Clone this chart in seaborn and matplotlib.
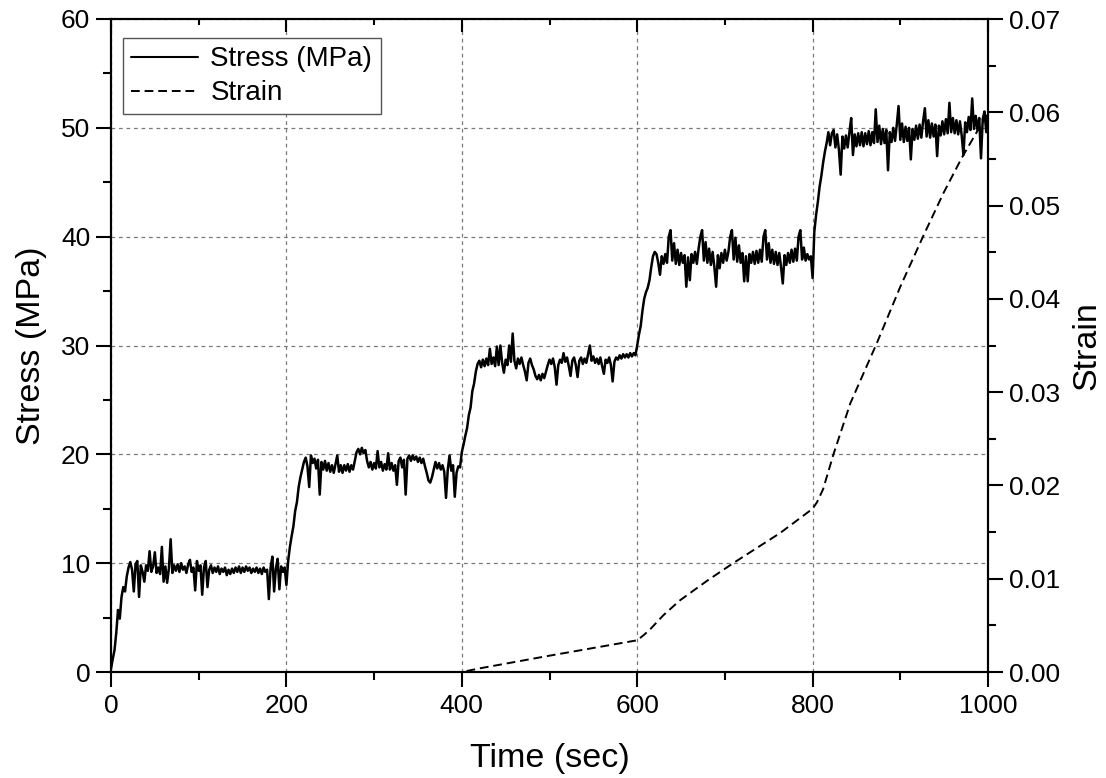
import numpy as np
import pandas as pd
import matplotlib
matplotlib.use("Agg")
import matplotlib.pyplot as plt
import seaborn as sns
from matplotlib.lines import Line2D
from matplotlib.ticker import MultipleLocator, FormatStrFormatter

# ---------------- data ----------------
# stress sampled every 2 s, stage by stage
stress_0_198 = [
    0.3, 1.2, 2.0, 3.6, 5.7, 4.9, 6.9, 7.8, 7.4, 8.8,
    9.6, 10.1, 9.4, 7.4, 9.9, 10.2, 6.9, 9.8, 9.2, 8.3,
    9.8, 9.3, 11.1, 9.2, 9.7, 11.0, 9.1, 9.6, 9.0, 11.5,
    8.3, 9.7, 8.2, 9.5, 12.2, 9.1, 9.8, 9.3, 9.9, 9.2,
    10.0, 9.4, 9.7, 9.1, 9.9, 10.3, 9.2, 9.6, 7.5, 10.2,
    9.3, 9.8, 7.1, 9.6, 10.2, 7.8, 9.4, 9.8, 9.1, 9.6,
    9.2, 9.7, 9.0, 9.5, 9.2, 9.6, 8.9, 9.4, 9.0, 9.5,
    9.1, 9.6, 9.2, 9.7, 9.1, 9.6, 9.2, 9.7, 9.3, 9.6,
    9.1, 9.5, 9.2, 9.6, 9.1, 9.5, 9.0, 9.6, 9.2, 9.4,
    6.7, 9.6, 10.6, 7.4, 9.5, 10.4, 7.6, 9.7, 9.2, 9.6,
]
stress_200_398 = [
    8.0, 10.2, 11.5, 12.5, 13.4, 14.8, 15.6, 17.0, 17.9, 18.6,
    19.3, 19.7, 18.9, 17.0, 19.9, 19.2, 19.6, 18.7, 19.5, 16.3,
    19.3, 18.6, 19.4, 18.5, 19.2, 18.4, 19.0, 18.3, 19.1, 19.9,
    18.4, 19.0, 18.3, 19.0, 18.5, 19.1, 18.4, 19.0, 18.6, 19.4,
    20.2, 20.5, 20.0, 20.6, 20.1, 20.4, 19.4, 18.8, 19.3, 18.6,
    19.2, 18.7, 20.3, 18.8, 19.3, 18.5, 19.1, 18.6, 20.1, 18.6,
    19.2, 18.5, 19.0, 17.2, 19.4, 19.7, 18.8, 19.5, 16.3, 19.6,
    19.9, 19.4, 19.9, 19.5, 19.8, 19.3, 19.7, 19.2, 19.6, 18.9,
    18.3, 17.6, 17.4, 17.9, 18.6, 19.3, 18.7, 19.2, 18.6, 19.0,
    18.4, 16.0, 18.6, 19.9, 18.5, 19.0, 16.1, 18.3, 18.9, 18.8,
]
stress_400_598 = [
    20.2, 20.9, 21.7, 22.4, 23.6, 24.3, 25.8, 26.5, 27.6, 28.3,
    28.6, 28.0, 28.7, 28.1, 28.8, 28.2, 29.7, 28.3, 28.9, 28.1,
    29.9, 28.2, 30.0, 28.4, 27.5, 28.7, 28.2, 30.0, 28.5, 31.1,
    28.6, 27.9, 28.8, 28.3, 28.9, 28.2, 27.6, 26.8, 28.4, 28.8,
    28.2, 27.8, 27.2, 26.9, 27.3, 26.8, 27.4, 27.0, 27.6, 28.2,
    28.7, 28.3, 28.8, 28.0, 26.4, 28.2, 28.7, 28.4, 29.3, 28.5,
    28.9, 28.1, 27.2, 28.6, 28.9, 28.2, 27.1, 28.6, 28.9, 28.3,
    28.8, 28.4, 29.2, 30.0, 28.6, 29.0, 28.4, 28.8, 28.3, 28.9,
    28.1, 27.4, 28.7, 28.4, 28.9, 28.2, 26.7, 28.5, 28.9, 28.7,
    29.1, 28.8, 29.2, 28.9, 29.2, 28.9, 29.3, 29.0, 29.3, 29.1,
]
stress_600_798 = [
    30.0, 31.0, 31.8, 33.2, 34.3, 34.9, 35.3, 36.0, 37.2, 38.2,
    38.6, 38.4, 37.6, 36.5, 38.2, 37.5, 38.4, 37.6, 40.0, 40.6,
    37.8, 39.4, 37.5, 38.8, 37.4, 38.5, 37.6, 38.3, 35.4, 38.1,
    36.0, 38.4, 37.6, 38.6, 37.5, 38.9, 40.0, 40.6, 37.8, 39.5,
    37.6, 38.9, 37.4, 38.6, 37.2, 35.4, 38.3, 37.1, 38.5, 37.6,
    38.8, 37.8, 38.6, 40.0, 40.6, 37.9, 39.9, 37.7, 39.2, 37.6,
    38.5, 35.9, 38.2, 35.9, 38.4, 37.6, 38.6, 37.5, 38.7, 37.6,
    38.8, 37.7, 40.0, 40.6, 37.9, 39.4, 37.6, 38.8, 37.5, 38.6,
    37.4, 38.5, 37.2, 35.7, 38.3, 37.4, 38.5, 37.6, 38.8, 37.7,
    38.9, 37.8, 40.0, 40.6, 37.9, 39.0, 37.8, 38.4, 37.9, 38.2,
]
stress_800_1000 = [
    36.2, 40.5, 42.0, 43.2, 44.6, 45.6, 46.8, 47.8, 48.6, 49.6,
    48.4, 49.5, 49.8, 48.2, 49.4, 48.0, 45.7, 49.2, 48.1, 49.3,
    48.2, 49.6, 50.9, 47.5, 49.4, 48.3, 49.5, 48.4, 49.6, 48.3,
    49.5, 48.5, 49.7, 48.4, 49.6, 48.6, 51.7, 48.7, 50.2, 48.5,
    49.9, 48.6, 49.8, 46.1, 49.6, 48.7, 50.0, 48.8, 50.3, 52.0,
    48.9, 50.4, 48.7, 50.1, 48.8, 50.0, 47.1, 49.9, 48.9, 50.2,
    49.0, 50.3, 49.1, 50.6, 51.8, 49.2, 50.7, 49.1, 50.4, 49.2,
    50.3, 47.4, 50.2, 49.3, 50.6, 49.4, 50.8, 49.5, 52.3, 49.6,
    50.9, 49.5, 50.7, 49.4, 50.6, 49.3, 47.5, 50.5, 49.6, 51.0,
    49.8, 52.7, 49.9, 51.1, 49.8, 50.9, 47.2, 50.8, 51.5, 49.6,
    51.2,
]
stress_step_sec = 2

strain_time = [390, 400, 421, 497, 600, 608, 615, 630, 649, 680, 710, 763,
               800, 805, 812, 824, 843, 873, 900, 926, 949, 970, 991, 1000]
strain_vals = [0.0, 0.0, 0.0004, 0.0017, 0.0034, 0.0040, 0.0046, 0.0061,
               0.0077, 0.0098, 0.0117, 0.0149, 0.0175, 0.0182, 0.0196, 0.0234,
               0.0288, 0.0352, 0.0413, 0.0467, 0.0513, 0.0551, 0.0585, 0.0598]

x_ticks = [0, 200, 400, 600, 800, 1000]
stress_ticks = [0, 10, 20, 30, 40, 50, 60]
strain_ticks = [0.00, 0.01, 0.02, 0.03, 0.04, 0.05, 0.06, 0.07]

stress = (stress_0_198 + stress_200_398 + stress_400_598
          + stress_600_798 + stress_800_1000)
stress_df = pd.DataFrame({"time": np.arange(len(stress)) * stress_step_sec,
                          "stress": stress})
strain_df = pd.DataFrame({"time": strain_time, "strain": strain_vals})

# ---------------- style ----------------
sns.set_style("ticks")
plt.rcParams["font.family"] = ["Liberation Sans", "DejaVu Sans"]
plt.rcParams["axes.linewidth"] = 1.5
for k in ("text.color", "axes.labelcolor", "xtick.color", "ytick.color",
          "axes.edgecolor"):
    plt.rcParams[k] = "black"

fig = plt.figure(figsize=(11.06, 7.78), dpi=100)
rect = [111 / 1106, 1 - 672 / 778, 877 / 1106, 653 / 778]
ax = fig.add_axes(rect)
ax2 = ax.twinx()

sns.lineplot(data=stress_df, x="time", y="stress", ax=ax, color="black",
             linewidth=1.8, estimator=None, sort=False)
sns.lineplot(data=strain_df, x="time", y="strain", ax=ax2, color="black",
             linewidth=1.4, linestyle=(0, (4.5, 2.5)), estimator=None, sort=False)

ax.set_xlim(0, 1000)
ax.set_ylim(0, 60)
ax2.set_ylim(0, 0.07)

ax.set_xticks(x_ticks)
ax.xaxis.set_minor_locator(MultipleLocator(100))
ax.set_yticks(stress_ticks)
ax.yaxis.set_minor_locator(MultipleLocator(5))
ax2.set_yticks(strain_ticks)
ax2.yaxis.set_minor_locator(MultipleLocator(0.005))
ax2.yaxis.set_major_formatter(FormatStrFormatter("%.2f"))

ax.grid(True, which="major", color="#7a7a7a", linestyle=(0, (3, 3)), linewidth=0.9)
ax.set_axisbelow(True)

# bottom/left ticks outward
ax.tick_params(axis="x", which="both", bottom=True, top=False, direction="out",
               width=1.5, labelsize=19, pad=5, color="black", labelcolor="black")
ax.tick_params(axis="x", which="major", length=11)
ax.tick_params(axis="x", which="minor", length=6)
ax.tick_params(axis="y", which="both", left=True, right=False, direction="out",
               width=1.5, labelsize=19, pad=4, color="black", labelcolor="black")
ax.tick_params(axis="y", which="major", length=11)
ax.tick_params(axis="y", which="minor", length=6)

# top ticks inward: a frameless overlay axes used only for its top ticks
axt = fig.add_axes(rect, frameon=False)
axt.patch.set_visible(False)
axt.set_xlim(0, 1000)
axt.set_xticks(x_ticks)
axt.xaxis.set_minor_locator(MultipleLocator(100))
axt.xaxis.set_ticks_position("top")
axt.tick_params(axis="x", which="both", direction="in", width=1.5, top=True,
                bottom=False, labeltop=False, labelbottom=False, color="black")
axt.tick_params(axis="x", which="major", length=9)
axt.tick_params(axis="x", which="minor", length=4.5)
axt.tick_params(axis="y", which="both", left=False, right=False,
                labelleft=False, labelright=False)

# right ticks outward
ax2.tick_params(axis="y", which="both", right=True, left=False, direction="out",
                width=1.5, labelsize=19, pad=4, color="black", labelcolor="black")
ax2.tick_params(axis="y", which="major", length=11)
ax2.tick_params(axis="y", which="minor", length=6)

for a in (ax, ax2):
    for s in a.spines.values():
        s.set_visible(True)
        s.set_linewidth(1.5)
        s.set_color("black")

ax.set_xlabel("Time (sec)", fontsize=24.5, labelpad=18)
ax.set_ylabel("Stress (MPa)", fontsize=24.5, labelpad=10)
ax2.set_ylabel("Strain", fontsize=24.5, labelpad=8)

handles = [Line2D([], [], color="black", linewidth=1.5),
           Line2D([], [], color="black", linewidth=1.4, linestyle=(0, (4.5, 2.5)))]
for a in (ax, ax2):
    if a.get_legend() is not None:
        a.get_legend().remove()
leg = axt.legend(handles, ["Stress (MPa)", "Strain"], loc="upper left",
                 bbox_to_anchor=(12 / 877, 1 - 19 / 653), borderaxespad=0,
                 fontsize=20, frameon=True, fancybox=False, framealpha=1,
                 edgecolor="#555555", handlelength=2.4, handletextpad=0.45,
                 labelspacing=0.28, borderpad=0.3, handleheight=0.6)
leg.get_frame().set_linewidth(1.0)

fig.savefig("out.png", dpi=100)
